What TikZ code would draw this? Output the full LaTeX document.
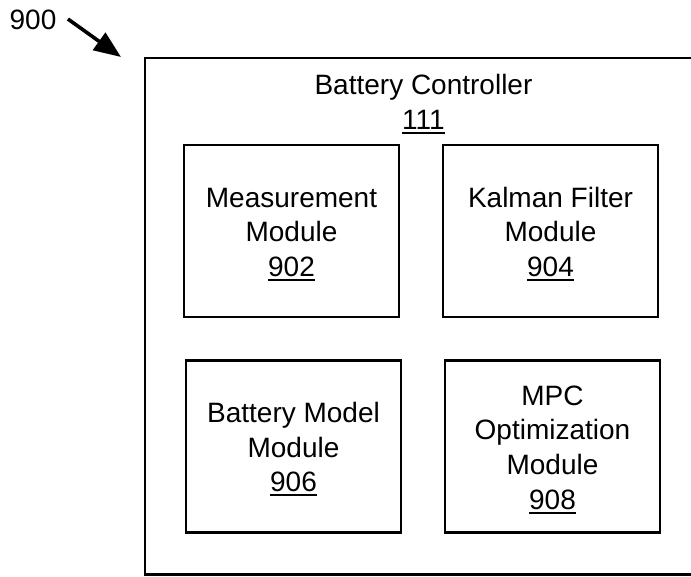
\documentclass[tikz,border=0pt]{standalone}
\usepackage{fontspec}
\setmainfont{Liberation Sans}
\usetikzlibrary{arrows.meta}
\newcommand{\numul}[1]{{\setbox0\hbox{#1}\rlap{\raisebox{-4.5pt}{\rule{\wd0}{1.9pt}}}\box0}}
\newcommand{\topstrut}{\rule{0pt}{26pt}}
\begin{document}
\begin{tikzpicture}[x=1pt,y=-1pt,
  every node/.style={font=\fontsize{28}{34.6}\selectfont},
  modbox/.style={draw, line width=2.2pt, inner sep=0pt, align=center,
    minimum width=215pt, minimum height=172pt},
  frame/.style={line width=2.6pt},
  pointer/.style={line width=3.6pt, -{Triangle[length=27pt,width=21pt]}}]
\useasboundingbox (0,0) rectangle (691,576);
% outer controller frame (open on the right, clipped by the page)
\draw[frame] (691,58) -- (145,58) -- (145,574.6) -- (691,574.6);
\node[align=center] (ctrl) at (423.5,104) {Battery Controller\\\numul{111}};
% modules
\node[modbox] (m902) at (291.5,231) {\topstrut Measurement\\Module\\\numul{902}};
\node[modbox] (m904) at (550.5,231) {\topstrut Kalman Filter\\Module\\\numul{904}};
\node[modbox] (m906) at (293.5,446.5) {\topstrut Battery Model\\Module\\\numul{906}};
\node[modbox] (m908) at (552.5,446.5) {\topstrut MPC\\Optimization\\Module\\\numul{908}};
% reference label
\node[font=\fontsize{28}{32}\selectfont] (n900) at (33,20) {900};
\coordinate (tip) at (121,57);
\draw[pointer] ([xshift=8pt,yshift=1pt]n900.east) -- (tip);
\end{tikzpicture}
\end{document}
